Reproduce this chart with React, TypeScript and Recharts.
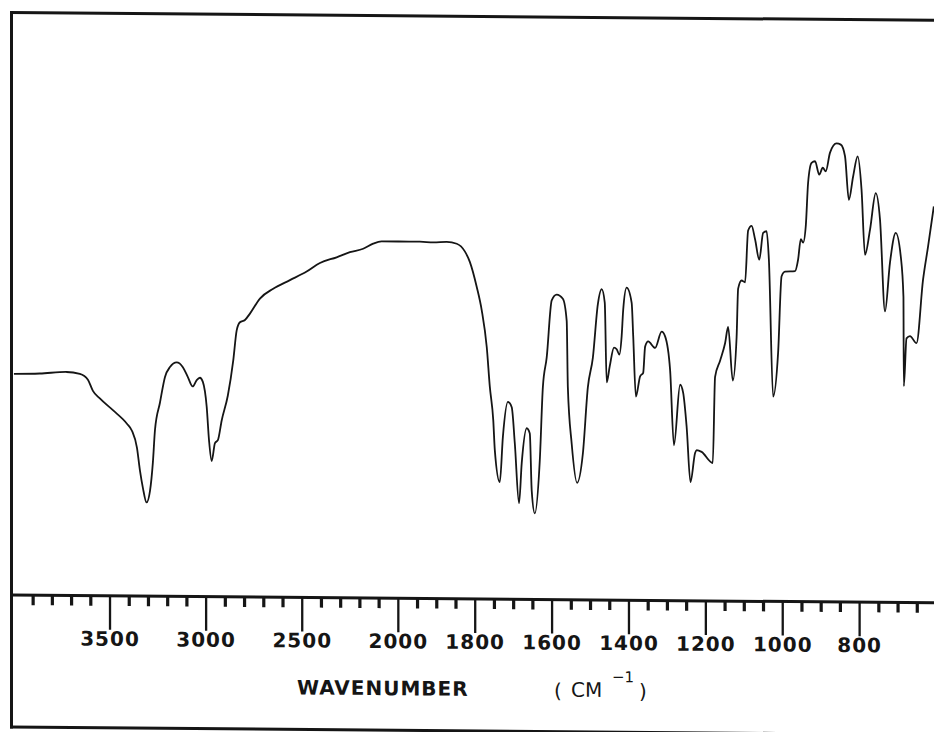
import React from "react";
import { LineChart, Line, XAxis, YAxis } from "recharts";

// Infrared spectrum: wavenumber (cm^-1) and percent transmittance
const WAVENUMBERS = [
  4000, 3865, 3726, 3657, 3615, 3589, 3553, 3485, 3412, 3386, 3360, 3344, 3329, 3310, 3292,
  3277, 3266, 3240, 3214, 3188, 3153, 3121, 3095, 3070, 3049, 3032, 3017, 2997, 2985, 2971,
  2954, 2939, 2919, 2887, 2859, 2841, 2824, 2798, 2772, 2720, 2651, 2564,
  2477, 2408, 2321, 2252, 2183, 2131, 2087, 2000, 1944, 1909, 1874,
  1848, 1827, 1814, 1796, 1783, 1770, 1762, 1753, 1749, 1736, 1728, 1715, 1705, 1697, 1686,
  1679, 1666, 1658, 1653, 1645, 1632, 1624, 1614, 1601, 1588, 1572, 1562, 1559, 1549, 1535,
  1520, 1507, 1494, 1481,
  1471, 1463, 1458, 1450, 1439, 1432, 1425, 1419, 1415, 1406, 1393, 1389, 1382, 1371, 1363,
  1358, 1350, 1332, 1315, 1306, 1293, 1283, 1267, 1259, 1250, 1240, 1228, 1224, 1211, 1182,
  1176, 1163, 1150, 1142, 1130, 1120, 1116, 1107, 1098, 1090,
  1081, 1072, 1061, 1051, 1042, 1036, 1025, 1012, 1003, 994, 968, 960, 953, 947, 940, 934,
  925, 916, 905, 896, 888, 877, 860, 849, 838, 828, 817, 805, 795, 786, 773, 758, 747, 734,
  721, 706, 693, 686, 685, 678, 669, 652, 635, 622, 607,
];

const TRANSMITTANCE = [
  38.0, 38.1, 38.4, 38.1, 37.1, 35.2, 33.9, 31.9, 29.6, 28.4, 25.5, 21.5, 18.6, 16.1, 18.1,
  23.0, 28.6, 33.3, 37.7, 39.4, 40.2, 39.4, 37.7, 36.1, 37.2, 37.6, 36.9, 32.6, 26.9, 23.3,
  26.4, 26.9, 30.3, 34.6, 40.6, 45.8, 47.2, 47.6, 48.7, 51.3, 53.0, 54.5,
  56.0, 57.5, 58.5, 59.4, 60.0, 60.9, 61.3, 61.3, 61.3, 61.2, 61.3,
  61.0, 59.7, 57.9, 53.6, 49.6, 43.3, 36.5, 30.7, 25.6, 20.1, 27.9, 33.9, 33.0, 26.8, 16.5,
  23.4, 29.4, 28.5, 18.7, 14.8, 23.9, 36.5, 41.6, 51.4, 52.4, 51.7, 47.9, 36.5, 26.8, 20.1,
  25.1, 36.5, 41.6, 50.8,
  53.4, 51.1, 37.4, 40.2, 43.4, 43.1, 42.2, 45.4, 49.9, 53.7, 51.1, 45.4, 35.0, 38.5, 39.1,
  43.6, 44.5, 43.4, 46.2, 45.4, 39.6, 26.7, 37.1, 35.7, 29.9, 20.4, 25.4, 25.9, 25.6, 23.7,
  38.5, 41.3, 44.3, 47.1, 37.9, 45.4, 53.7, 55.1, 54.8, 63.7,
  64.5, 62.2, 58.7, 63.3, 63.6, 58.7, 35.2, 42.8, 55.9, 56.7, 56.8, 58.8, 62.3, 61.7, 64.6, 72.0,
  75.4, 75.7, 73.4, 74.6, 74.0, 77.2, 78.8, 78.6, 76.6, 69.1, 73.1, 76.6, 70.9, 59.7, 64.0, 70.3, 65.8, 50.0,
  58.4, 63.5, 59.5, 52.6, 37.2, 45.4, 45.8, 44.6, 55.5, 61.2, 68.1,
];

// Labelled axis positions (cm^-1)
const TICK_LABELS = [3500, 3000, 2500, 2000, 1800, 1600, 1400, 1200, 1000, 800];

// The chart paper changes scale at 2000 cm^-1: below it one cm^-1 takes twice the width.
const toU = (wn: number) => (wn >= 2000 ? 4000 - wn : 2000 + 2 * (2000 - wn));
const fromU = (u: number) => (u <= 2000 ? 4000 - u : 2000 - (u - 2000) / 2);

const rows = WAVENUMBERS.map((wn, i) => ({ u: toU(wn), t: TRANSMITTANCE[i] }));

// Minor ticks every 100 cm^-1 above 2000, every 50 cm^-1 below
const tickWavenumbers: number[] = [];
for (let wn = 3900; wn >= 2000; wn -= 100) tickWavenumbers.push(wn);
for (let wn = 1950; wn >= 650; wn -= 50) tickWavenumbers.push(wn);
const tickPositions = tickWavenumbers.map(toU);

const INK = "#151515";
const FONT = "'DejaVu Sans', 'Liberation Sans', sans-serif";

function AxisTick(props: any) {
  const { x, y, payload } = props;
  const wn = Math.round(fromU(payload.value));
  if (TICK_LABELS.includes(wn)) {
    return (
      <g>
        <line x1={x} x2={x} y1={y} y2={y + 34} stroke={INK} strokeWidth={2.3} />
        <text
          x={x}
          y={y + 50}
          textAnchor="middle"
          fontFamily={FONT}
          fontWeight="bold"
          fontSize={20}
          letterSpacing={1}
          fill={INK}
        >
          {wn}
        </text>
      </g>
    );
  }
  return <line x1={x} x2={x} y1={y} y2={y + 10} stroke={INK} strokeWidth={3.2} />;
}

export default function App() {
  return (
    <div
      style={{
        position: "fixed",
        left: 0,
        top: 0,
        width: 934,
        height: 732,
        overflow: "hidden",
        background: "#fff",
      }}
    >
      <div
        style={{
          position: "absolute",
          left: 0,
          top: 0,
          width: 934,
          height: 732,
          transform: "skewY(0.487deg)",
          transformOrigin: "12px 595px",
        }}
      >
        <LineChart
          width={934}
          height={732}
          data={rows}
          margin={{ top: 13, right: 0, bottom: 0, left: 12 }}
        >
          <XAxis
            type="number"
            dataKey="u"
            domain={[-10, 4787]}
            allowDataOverflow
            ticks={tickPositions}
            interval={0}
            tick={<AxisTick />}
            tickLine={false}
            tickSize={0}
            tickMargin={0}
            axisLine={{ stroke: INK, strokeWidth: 3 }}
            height={137}
          />
          <YAxis hide type="number" domain={[0, 100]} />
          <Line
            type="monotone"
            dataKey="t"
            stroke={INK}
            strokeWidth={1.8}
            dot={false}
            isAnimationActive={false}
          />
        </LineChart>
        <svg
          width={934}
          height={732}
          style={{ position: "absolute", left: 0, top: 0, pointerEvents: "none" }}
        >
          <line x1={11.5} x2={11.5} y1={11} y2={728.5} stroke={INK} strokeWidth={3} />
          <line x1={10} x2={934} y1={12.5} y2={12.5} stroke={INK} strokeWidth={3} />
          <line x1={10} x2={934} y1={727} y2={727} stroke={INK} strokeWidth={3} />
          <text
            x={297}
            y={692}
            fontFamily={FONT}
            fontWeight="bold"
            fontSize={20}
            letterSpacing={1}
            fill={INK}
          >
            WAVENUMBER
          </text>
          <g fontFamily={FONT} fill={INK} fontSize={20}>
            <text x={554} y={693}>(</text>
            <text x={571} y={692}>CM</text>
            <text x={612} y={677} fontSize={15}>−1</text>
            <text x={639} y={693}>)</text>
          </g>
        </svg>
      </div>
    </div>
  );
}
